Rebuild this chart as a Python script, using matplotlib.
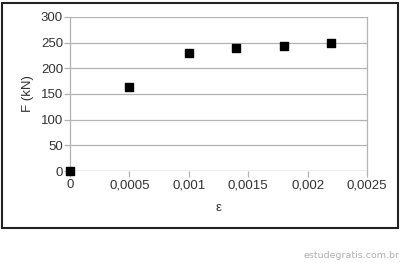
import matplotlib.pyplot as plt
from matplotlib.patches import Rectangle
from matplotlib.ticker import FuncFormatter

# strain and force values
strain = [0, 0.0005, 0.001, 0.0014, 0.0018, 0.0022]
force = [0, 163, 230, 240, 243, 249]

x_ticks = [0, 0.0005, 0.001, 0.0015, 0.002, 0.0025]
y_ticks = [0, 50, 100, 150, 200, 250, 300]

plt.rcParams['font.family'] = ['Liberation Sans', 'DejaVu Sans']

fig = plt.figure(figsize=(4.05, 2.63), dpi=100)
ax = fig.add_axes([70 / 405, 1 - 171 / 263, 297 / 405, 154 / 263])

# outer frame around the chart
fig.patches.append(Rectangle((1.5 / 405, 1 - 227.5 / 263), 396.5 / 405, 224.5 / 263,
                             transform=fig.transFigure, fill=False,
                             edgecolor='#222222', linewidth=1.5))

ax.scatter(strain, force, marker='s', s=26, color='black', zorder=3, clip_on=False)

ax.set_xlim(0, 0.0025)
ax.set_ylim(0, 300)
ax.set_xticks(x_ticks)
ax.set_yticks(y_ticks)
ax.xaxis.set_major_formatter(FuncFormatter(lambda v, p: ('%g' % v).replace('.', ',') if v else '0'))

ax.grid(axis='y', color='#b3b3b3', linewidth=0.9)
for s in ['top', 'bottom']:
    ax.spines[s].set_visible(False)
for s in ['left', 'right']:
    ax.spines[s].set_color('#b3b3b3')
    ax.spines[s].set_linewidth(0.9)
ax.axhline(0, color='#b3b3b3', linewidth=0.9, zorder=1)

ax.tick_params(axis='both', colors='#b3b3b3', labelcolor='#333333', labelsize=9.5,
               length=4, width=0.9, pad=1)
ax.tick_params(axis='x', pad=2)

ax.set_ylabel('F (kN)', fontsize=9.5, color='#333333', labelpad=5)
ax.set_xlabel('ε', fontsize=9.5, color='#333333', labelpad=8)

fig.text(400 / 405, 1 - 256 / 263, 'estudegratis.com.br', ha='right', va='center',
         fontsize=6.8, color='#b0b0b0', family=['DejaVu Sans'])

fig.savefig('out.png', dpi=100)
